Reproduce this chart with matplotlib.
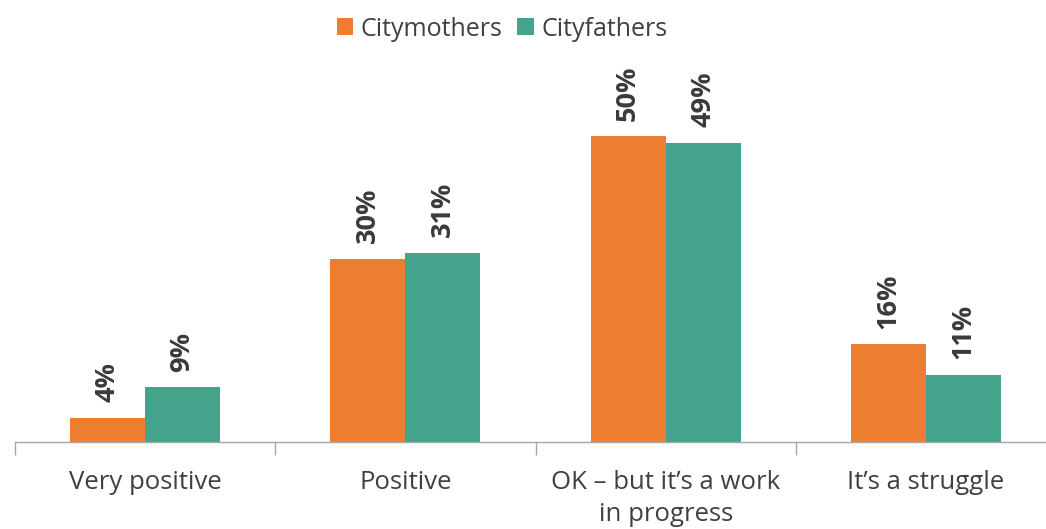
import matplotlib.pyplot as plt
import numpy as np

plt.rcParams['font.family'] = ['Open Sans', 'DejaVu Sans']

categories = ['Very positive', 'Positive', 'OK – but it’s a work\nin progress', 'It’s a struggle']
citymothers = [4, 30, 50, 16]
cityfathers = [9, 31, 49, 11]

orange = '#ED7D31'
teal = '#43A38B'
text_col = '#404040'

W, H = 1046, 529
fig = plt.figure(figsize=(W / 100, H / 100), dpi=100)
# axes runs a bit past the right edge, like the category grid
ax = fig.add_axes([15 / W, (H - 442) / H, 1041 / W, 382 / H])

x = np.arange(len(categories)) + 0.5
bw = 0.288
b1 = ax.bar(x - bw / 2, citymothers, bw, color=orange, label='Citymothers')
b2 = ax.bar(x + bw / 2, cityfathers, bw, color=teal, label='Cityfathers')

for bars, vals in [(b1, citymothers), (b2, cityfathers)]:
    for rect, v in zip(bars, vals):
        ax.annotate(f'{v}%', (rect.get_x() + rect.get_width() / 2, v),
                    xytext=(0, 11), textcoords='offset points',
                    rotation=90, ha='center', va='bottom',
                    fontsize=19.5, fontweight='bold', color='#3a3a3a')

ax.set_xlim(0, 4)
ax.set_ylim(0, 62.5)
ax.set_yticks([])
ax.set_xticks(x)
ax.set_xticklabels(categories, fontsize=18.5, color=text_col, linespacing=1.4)
ax.tick_params(axis='x', which='major', length=0, pad=20)
ax.set_xticks(np.arange(5), minor=True)
ax.tick_params(axis='x', which='minor', length=9, width=1, color='#a6a6a6')

for s in ['top', 'right', 'left']:
    ax.spines[s].set_visible(False)
ax.spines['bottom'].set_color('#a6a6a6')
ax.spines['bottom'].set_linewidth(1)

fig.legend(loc='center', bbox_to_anchor=(502 / W, 1 - 29 / H), ncol=2,
           frameon=False, fontsize=18, handlelength=0.65, handleheight=0.65,
           handletextpad=0.3, columnspacing=0.6, labelcolor=text_col)

fig.savefig('out.png', dpi=100)
